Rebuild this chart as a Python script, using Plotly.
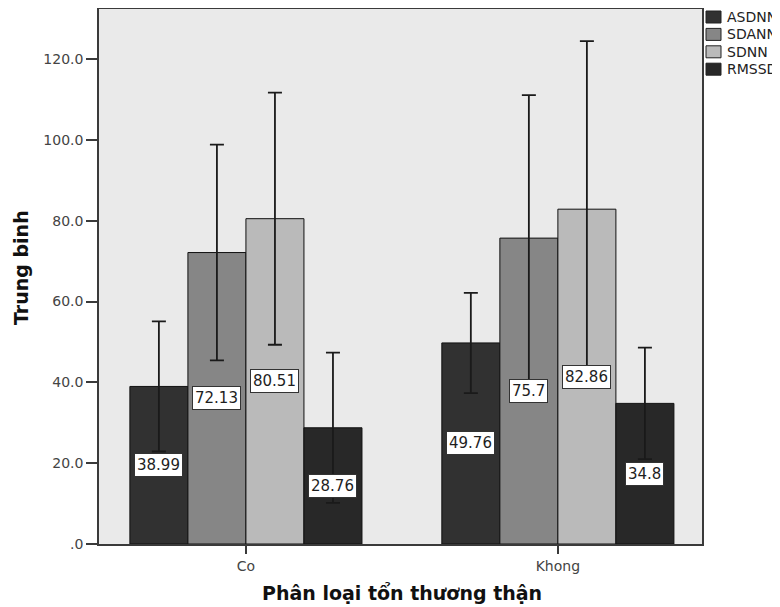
import plotly.graph_objects as go

categories = ["Co", "Khong"]
series_names = ["ASDNN", "SDANN", "SDNN", "RMSSD"]
asdnn = [38.99, 49.76]
sdann = [72.13, 75.70]
sdnn = [80.51, 82.86]
rmssd = [28.76, 34.80]
asdnn_err = [16.1, 12.4]
sdann_err = [26.7, 35.4]
sdnn_err = [31.2, 41.6]
rmssd_err = [18.6, 13.8]
label_text = {
    "ASDNN": ["38.99", "49.76"],
    "SDANN": ["72.13", "75.7"],
    "SDNN": ["80.51", "82.86"],
    "RMSSD": ["28.76", "34.8"],
}
tick_vals = [0, 20, 40, 60, 80, 100, 120]
tick_text = [".0", "20.0", "40.0", "60.0", "80.0", "100.0", "120.0"]
x_title = "Phân loại tổn thương thận"
y_title = "Trung binh"

values = [asdnn, sdann, sdnn, rmssd]
errors = [asdnn_err, sdann_err, sdnn_err, rmssd_err]
colors = ["#313131", "#868686", "#bababa", "#282828"]

# page body has an 8px margin: figure is sized/positioned to compensate
PAGE_OFF = 8
W, H = 780 - PAGE_OFF, 607 - PAGE_OFF
# plot area on screen: x 99..702, y 9..544
SX0, SX1, SY0, SY1 = 99, 702, 9, 544
L = SX0 - PAGE_OFF
T = SY0 - PAGE_OFF
R = W - (SX1 - PAGE_OFF)
B = H - (SY1 - PAGE_OFF)


def px(sx):
    return (sx - SX0) / (SX1 - SX0)


def py(sy):
    return (SY1 - sy) / (SY1 - SY0)


bargap = 0.256
n = len(series_names)
bw = (1 - bargap) / n

fig = go.Figure()
for i, name in enumerate(series_names):
    fig.add_trace(go.Bar(
        name=name, x=categories, y=values[i],
        marker=dict(color=colors[i], line=dict(color="#111111", width=1)),
        error_y=dict(type="data", array=errors[i], visible=True,
                     color="#1a1a1a", thickness=1.8, width=7),
        showlegend=False,
    ))

annotations = []
for i, name in enumerate(series_names):
    off = -(1 - bargap) / 2 + bw * (i + 0.5)
    for j, cat in enumerate(categories):
        annotations.append(dict(
            x=j + off, y=values[i][j] / 2, xref="x", yref="y",
            text=label_text[name][j], showarrow=False,
            font=dict(family="DejaVu Sans", size=15, color="#1e1e1e"),
            bgcolor="#ffffff", bordercolor="#333333", borderwidth=1, borderpad=2,
        ))

# manual legend (outside top right, clipped by the window like the original)
shapes = []
leg_x0, leg_y0, row_h = 706, 17, 17.4
for i, name in enumerate(series_names):
    cy = leg_y0 + i * row_h
    shapes.append(dict(
        type="rect", xref="paper", yref="paper",
        x0=px(leg_x0), x1=px(leg_x0 + 15),
        y0=py(cy + 6), y1=py(cy - 6),
        fillcolor=colors[i], line=dict(color="#222222", width=1),
    ))
    annotations.append(dict(
        x=px(leg_x0 + 19), y=py(cy),
        xref="paper", yref="paper", xanchor="left", yanchor="middle",
        text=name, showarrow=False,
        font=dict(family="DejaVu Sans", size=14, color="#222222"),
    ))

# axis titles
annotations.append(dict(
    x=px(402), y=py(593), xref="paper", yref="paper",
    xanchor="center", yanchor="middle", text=x_title, showarrow=False,
    font=dict(family="DejaVu Sans", size=19, color="#111111", weight="bold"),
))
annotations.append(dict(
    x=px(21), y=py(268), xref="paper", yref="paper", textangle=-90,
    xanchor="center", yanchor="middle", text=y_title, showarrow=False,
    font=dict(family="DejaVu Sans", size=19, color="#111111", weight="bold"),
))

fig.update_layout(
    width=W, height=H,
    margin=dict(l=L, r=R, t=T, b=B, autoexpand=False),
    paper_bgcolor="#ffffff", plot_bgcolor="#eaeaea",
    barmode="group", bargap=bargap, bargroupgap=0,
    annotations=annotations, shapes=shapes,
    font=dict(family="DejaVu Sans", color="#333333"),
)
fig.update_xaxes(
    type="category", range=[-0.471, 1.462],
    showline=True, linecolor="#3a3a3a", linewidth=1.5, mirror=True,
    ticks="outside", ticklen=8, tickcolor="#3a3a3a", tickwidth=1.5,
    tickfont=dict(family="DejaVu Sans", size=14, color="#444444"),
    showgrid=False,
)
fig.update_yaxes(
    range=[0, 132.4], tickvals=tick_vals, ticktext=tick_text,
    showline=True, linecolor="#3a3a3a", linewidth=1.5, mirror=True,
    ticks="outside", ticklen=11, tickcolor="#3a3a3a", tickwidth=1.5,
    tickfont=dict(family="DejaVu Sans", size=14, color="#444444"),
    showgrid=False, zeroline=False,
)
fig.write_html("out.html")
